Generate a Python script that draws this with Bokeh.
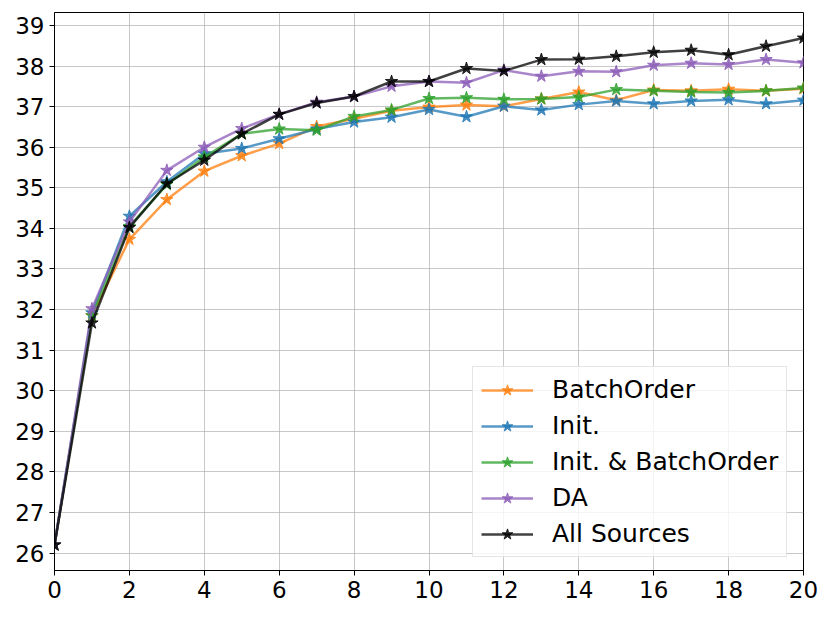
from bokeh.plotting import figure
from bokeh.models import Range1d, Legend, LegendItem, FixedTicker
from bokeh.embed import file_html
from bokeh.resources import INLINE

epochs = list(range(21))
batch_order = [26.2, 31.85, 33.73, 34.71, 35.41, 35.79, 36.09, 36.51, 36.70, 36.90, 36.99,
               37.04, 37.01, 37.19, 37.36, 37.16, 37.41, 37.39, 37.43, 37.39, 37.44]
init = [26.2, 31.92, 34.30, 35.15, 35.84, 35.97, 36.21, 36.45, 36.62, 36.74, 36.93,
        36.75, 37.01, 36.92, 37.05, 37.14, 37.07, 37.14, 37.17, 37.07, 37.16]
init_batch = [26.2, 31.85, 34.05, 35.08, 35.76, 36.33, 36.45, 36.42, 36.76, 36.92, 37.20,
              37.22, 37.18, 37.19, 37.24, 37.42, 37.39, 37.36, 37.35, 37.39, 37.46]
da = [26.2, 32.02, 34.16, 35.43, 36.00, 36.46, 36.81, 37.11, 37.25, 37.50, 37.62,
      37.59, 37.90, 37.75, 37.87, 37.86, 38.02, 38.07, 38.04, 38.16, 38.08]
all_sources = [26.2, 31.67, 34.02, 35.10, 35.68, 36.33, 36.81, 37.09, 37.25, 37.62, 37.62,
               37.94, 37.88, 38.16, 38.17, 38.24, 38.34, 38.39, 38.28, 38.49, 38.69]

names = ["BatchOrder", "Init.", "Init. & BatchOrder", "DA", "All Sources"]
series = [batch_order, init, init_batch, da, all_sources]
colors = ["#ff7f0e", "#1f77b4", "#2ca02c", "#8c5cb8", "#000000"]

p = figure(width=826, height=613, output_backend="svg", toolbar_location=None,
           x_range=Range1d(0, 20), y_range=Range1d(25.57, 39.32),
           min_border_left=54, min_border_right=23, min_border_top=12, min_border_bottom=43)

p.outline_line_color = "black"
p.outline_line_width = 1
p.background_fill_color = "white"
p.border_fill_color = "white"

for ax in (p.xaxis, p.yaxis):
    ax.major_label_text_font = "DejaVu Sans"
    ax.major_label_text_font_size = "23px"
    ax.major_label_text_color = "black"
    ax.axis_line_color = "black"
    ax.major_tick_line_color = "black"
    ax.major_tick_out = 5
    ax.major_tick_in = 0
    ax.minor_tick_line_color = None
    ax.major_label_standoff = 5

p.xaxis.ticker = FixedTicker(ticks=list(range(0, 21, 2)))
p.yaxis.ticker = FixedTicker(ticks=list(range(26, 40)))

p.xgrid.ticker = FixedTicker(ticks=list(range(0, 21, 2)))
p.ygrid.ticker = FixedTicker(ticks=list(range(26, 40)))
for g in (p.xgrid, p.ygrid):
    g.grid_line_color = "#b0b0b0"
    g.grid_line_alpha = 0.7
    g.grid_line_width = 1

items = []
for name, ys, c in zip(names, series, colors):
    r1 = p.line(epochs, ys, line_color=c, line_width=2.5, line_alpha=0.75)
    r2 = p.scatter(epochs, ys, marker="star", size=13, fill_color=c, line_color=c,
                   fill_alpha=0.8, line_alpha=0.8)
    items.append(LegendItem(label=name, renderers=[r1, r2]))

legend = Legend(items=items, location=(418, 13))
legend.label_text_font = "DejaVu Sans"
legend.label_text_font_size = "25px"
legend.label_text_color = "black"
legend.glyph_width = 52
legend.glyph_height = 28
legend.label_height = 28
legend.spacing = 7
legend.padding = 8
legend.label_standoff = 19
legend.margin = 0
legend.border_line_color = "#cccccc"
legend.border_line_width = 1
legend.background_fill_color = "white"
legend.background_fill_alpha = 0.8
p.add_layout(legend)

open("out.html", "w").write(file_html(p, INLINE))
